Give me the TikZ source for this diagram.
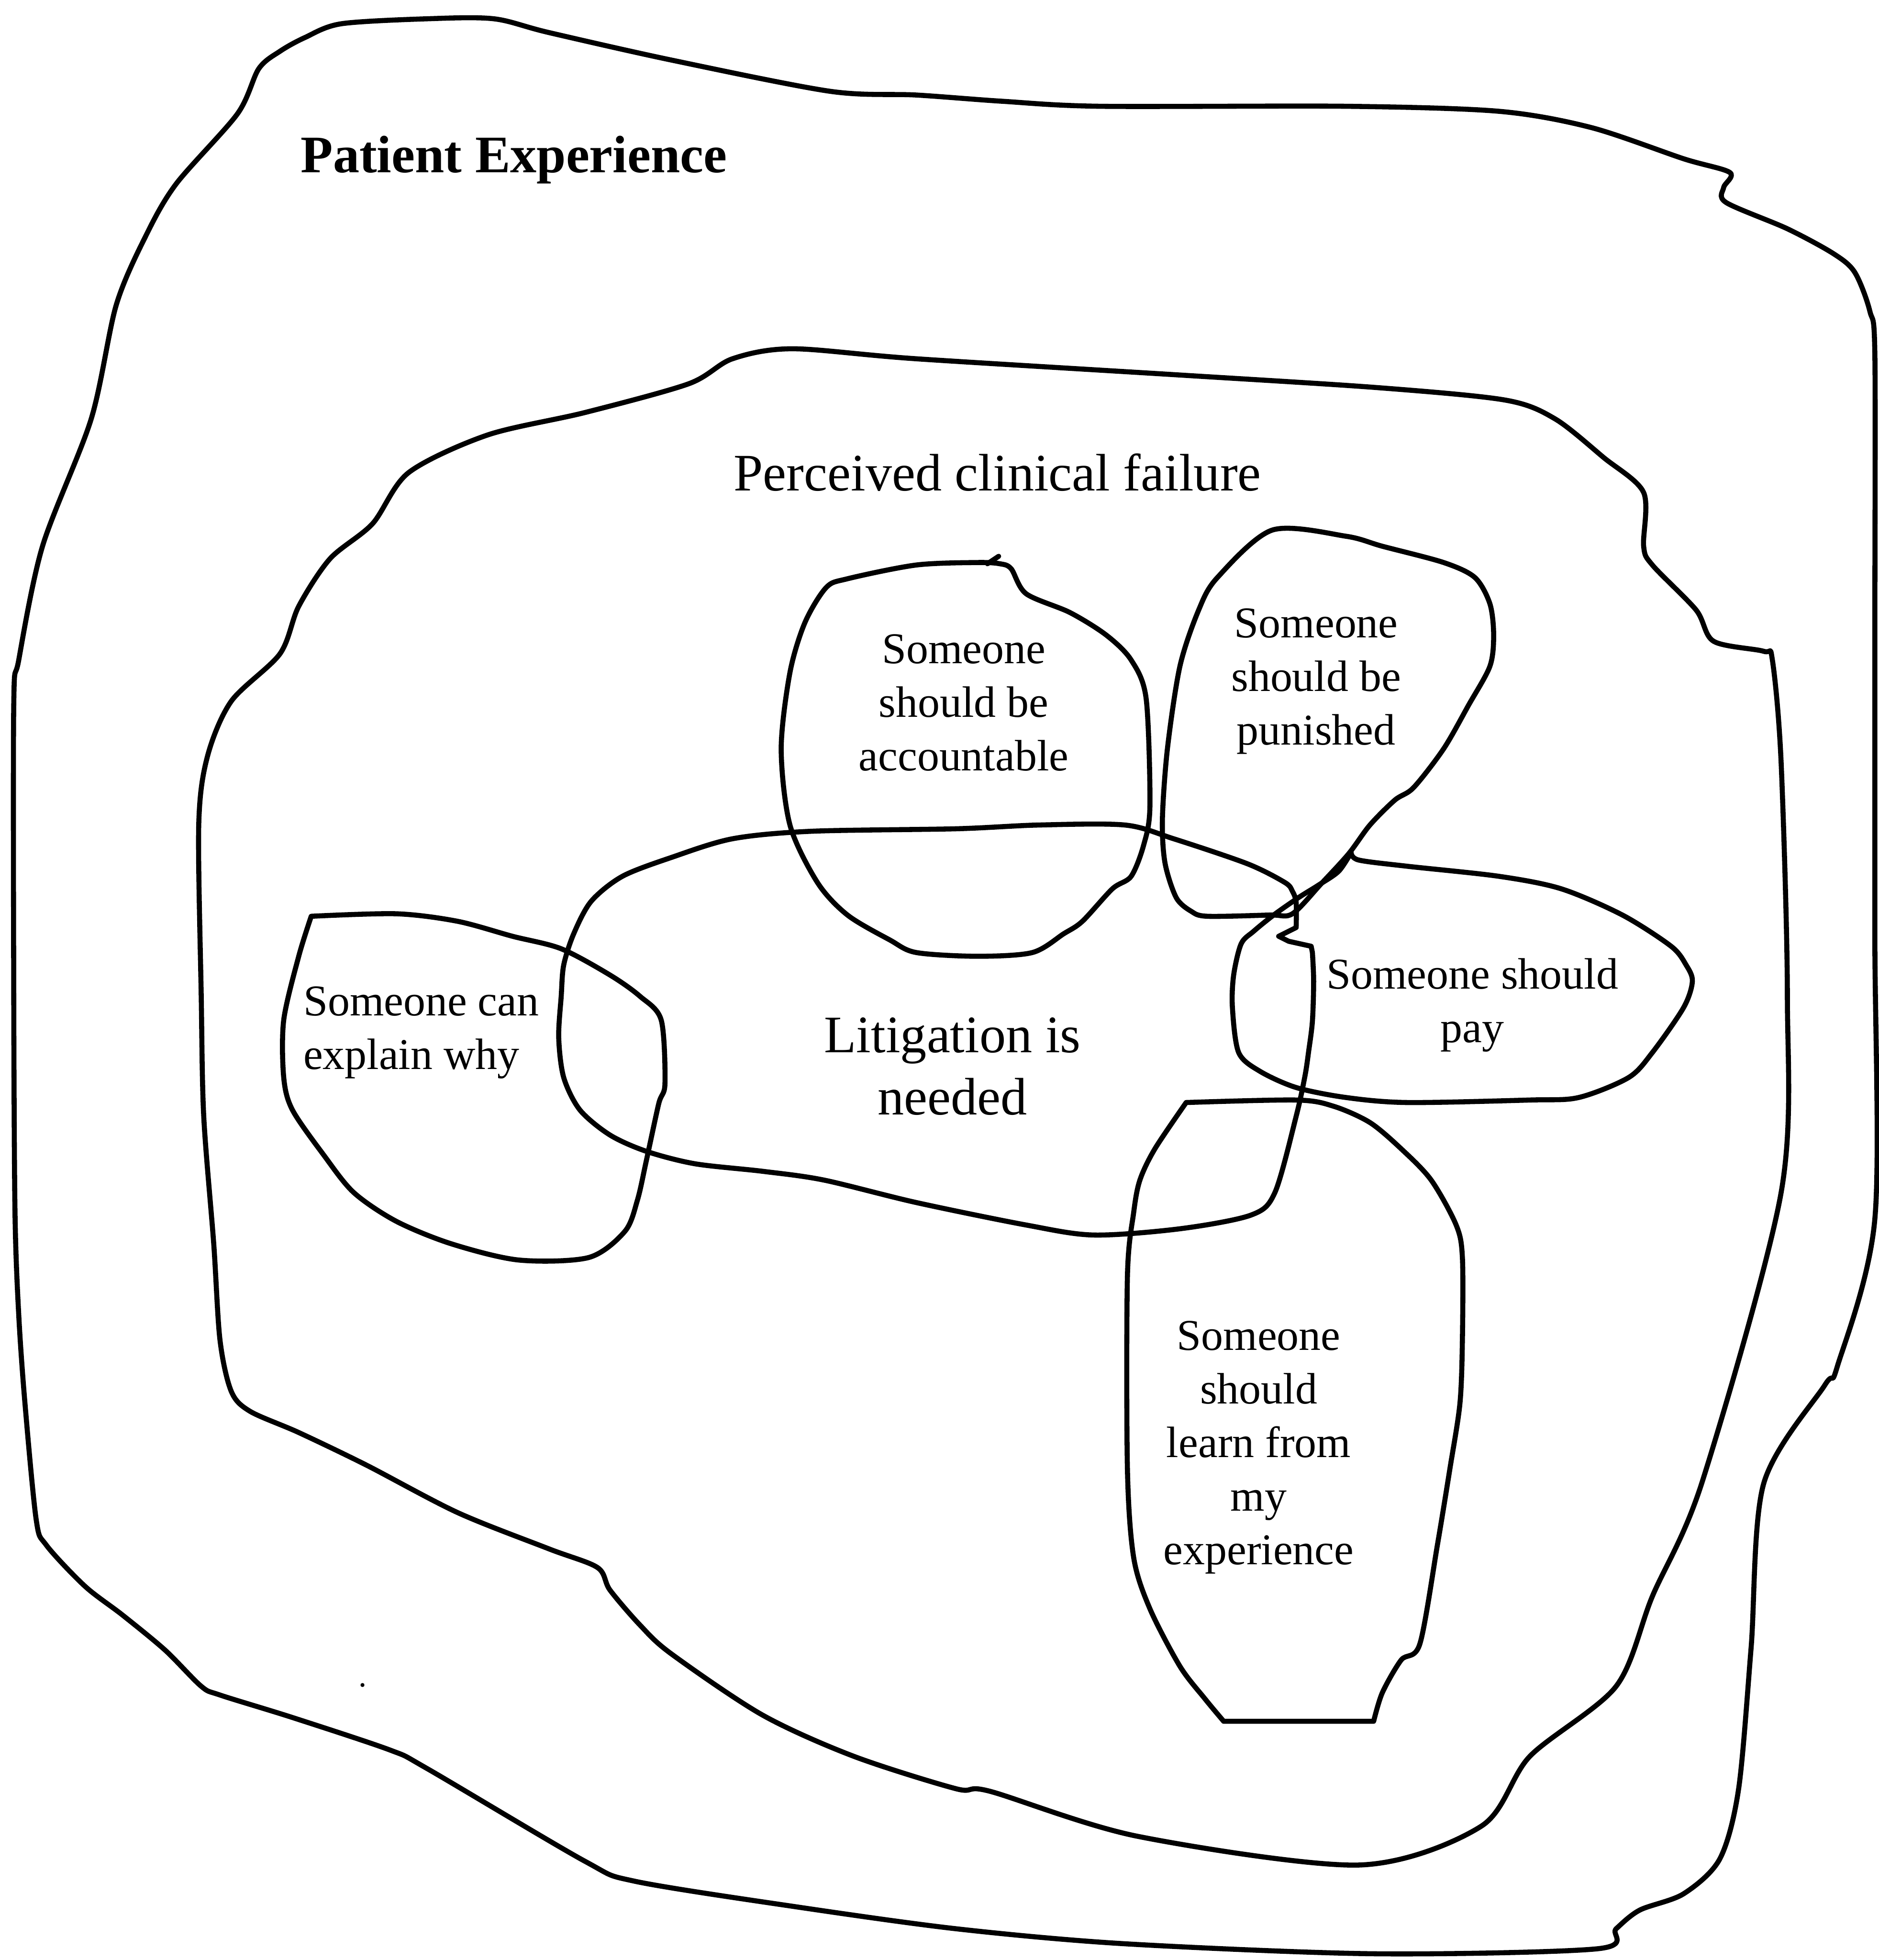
\documentclass[tikz,border=0pt]{standalone}
\usepackage{fontspec}
\setmainfont{Liberation Serif}
\begin{document}
\begin{tikzpicture}[x=0.01cm, y=-0.01cm,
  blob/.style={draw=black, line width=1.15pt, line join=round, line cap=round},
  lab/.style={font=\fontsize{10}{12.2}\selectfont, align=center, inner sep=0pt},
  biglab/.style={font=\fontsize{12}{14.2}\selectfont, align=center, inner sep=0pt}]
\fill[white] (0,0) rectangle (1503,1568);
\useasboundingbox (0,0) rectangle (1503,1568);

% outer region: patient experience
\draw[blob] plot[smooth cycle, tension=0.5] coordinates {
  (207,55) (224,41) (244,30) (273,19) (342,15) (395,15) (439,26) (537,48)
  (664,73) (733,76) (802,81) (880,85) (1077,85) (1199,89) (1273,102)
  (1347,127) (1384,138) (1379,150) (1381,162) (1430,183) (1467,203)
  (1484,218) (1496,249) (1500,284) (1500,500) (1500,750) (1500,975)
  (1470,1093) (1460,1108) (1411,1187) (1401,1318) (1391,1431) (1376,1487)
  (1347,1515) (1312,1528) (1293,1543) (1278,1559) (1100,1563) (900,1555)
  (765,1543) (634,1525) (508,1505) (468,1489) (342,1415) (312,1400)
  (234,1374) (176,1356) (161,1349) (132,1320) (98,1292) (68,1269)
  (37,1236) (29,1216) (20,1123) (15,1052) (12,970) (11,797) (11,564)
  (15,528) (34,437) (73,335) (93,244) (117,188) (141,147) (190,91)};

% inner region: perceived clinical failure
\draw[blob] plot[smooth cycle, tension=0.5] coordinates {
  (586,287) (634,279) (733,287) (944,300) (1101,310) (1204,320) (1244,335)
  (1283,366) (1315,394) (1315,437) (1322,452) (1357,488) (1371,513)
  (1411,521) (1418,528) (1425,610) (1430,797) (1425,954) (1362,1185)
  (1322,1277) (1293,1349) (1224,1405) (1185,1461) (1087,1492) (910,1469)
  (792,1433) (765,1431) (683,1405) (610,1372) (537,1323) (512,1300)
  (488,1272) (478,1254) (439,1239) (366,1210) (293,1172) (239,1146)
  (200,1129) (185,1113) (176,1072) (171,995) (163,893) (161,797) (159,660)
  (166,605) (185,561) (224,523) (239,485) (264,447) (298,419) (327,378)
  (390,348) (468,330) (551,307)};

% someone should be accountable
\draw[blob] plot[smooth cycle, tension=0.5] coordinates {
  (678,463) (733,452) (782,450) (800,451) (809,455) (821,475) (856,490)
  (885,508) (905,528) (917,559) (920,645) (915,676) (905,701) (890,711)
  (866,737) (851,747) (826,762) (782,765) (733,762) (712,752) (678,732)
  (654,706) (632,660) (625,599) (632,538) (644,498) (661,470)};
\draw[blob] (790,451) -- (799,445);

% someone should be punished
\draw[blob] plot[smooth cycle, tension=0.5] coordinates {
  (1018,424) (1077,429) (1106,437) (1155,450) (1180,462) (1192,483)
  (1195,508) (1192,533) (1175,564) (1155,599) (1131,630) (1116,640)
  (1096,660) (1079,683) (1057,707) (1034,731) (1016,732) (966,733)
  (953,729) (941,718) (932,690) (930,655) (934,599) (944,533) (959,488)
  (974,462)};

% someone should pay
\draw[blob] plot[smooth, tension=0.5] coordinates {
  (1081,682) (1087,688) (1126,693) (1199,701) (1249,711) (1298,732)
  (1337,757) (1349,772) (1354,785) (1347,806) (1322,842) (1303,862)
  (1263,878) (1224,880) (1126,882) (1077,878) (1037,870) (1008,857)
  (991,842) (986,806) (987,780) (993,755) (1003,745) (1019,732)
  (1039,718) (1055,708) (1071,697) (1081,682)};

% litigation is needed
\draw[blob] plot[smooth, tension=0.5] coordinates {
  (1050,762) (1051,785) (1050,817) (1047,841) (1044,861) (1037,893)
  (1020,954) (1001,972) (944,983) (875,988) (821,980) (733,962) (659,944)
  (610,937) (556,931) (517,921) (488,908) (464,888) (451,862) (447,830)
  (449,797) (451,772) (459,747) (473,721) (498,701) (537,686) (586,671)
  (649,665) (765,663) (831,660) (900,660) (939,671) (998,691) (1028,706)
  (1034,713) (1037,722) (1037,742)}
  -- (1023,749) -- (1031,753) -- (1049,757) -- cycle;

% someone can explain why
\draw[blob] plot[smooth, tension=0.5] coordinates {
  (249,733) (317,731) (366,737) (410,749) (449,759) (488,780) (512,797)
  (529,816) (532,867) (527,883) (517,929) (510,960) (500,985) (471,1006)
  (415,1008) (361,995) (317,977) (283,954) (259,924) (234,888) (227,862)
  (227,816) (239,765) (249,733)};

% someone should learn from my experience
\draw[blob] plot[smooth, tension=0.5] coordinates {
  (979,1377) (964,1359) (944,1333) (920,1287) (907,1246) (902,1175)
  (902,1021) (907,970) (912,944) (924,919) (949,882)}
  -- plot[smooth, tension=0.5] coordinates {
  (949,882) (1037,880) (1067,885) (1096,898) (1121,919) (1145,944)
  (1165,980) (1170,1006) (1170,1072) (1168,1123) (1160,1175) (1150,1236)
  (1136,1315) (1121,1328) (1106,1354) (1099,1377)} -- cycle;

% stray speck
\fill (290,1348) circle (1.6);

% labels
\node[biglab, anchor=west] (pe) at (240,128) {\bfseries Patient Experience};
\node[biglab] (pcf) at (798,378) {Perceived clinical failure};
\node[lab] (acc) at (771,562) {Someone\\should be\\accountable};
\node[lab] (pun) at (1053,545) {Someone\\should be\\punished};
\node[lab, align=left, anchor=west] (exp) at (242,826) {Someone can\\explain why};
\node[biglab] (lit) at (762,853) {Litigation is\\needed};
\node[lab] (pay) at (1178,804) {Someone should\\pay};
\node[lab] (learn) at (1007,1158) {Someone\\should\\learn from\\my\\experience};
\end{tikzpicture}
\end{document}
